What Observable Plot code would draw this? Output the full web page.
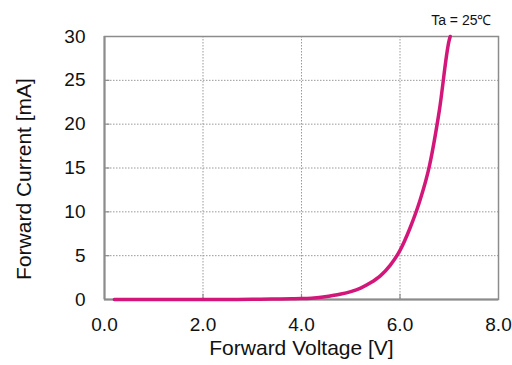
<!DOCTYPE html>
<html>
<head>
<meta charset="utf-8">
<script src="https://cdn.jsdelivr.net/npm/d3@7"></script>
<script src="https://cdn.jsdelivr.net/npm/@observablehq/plot@0.6"></script>
<style>
  html, body { margin: 0; padding: 0; background: #fff; }
  #chart svg { font-family: "Liberation Sans", Arial, sans-serif; }
</style>
</head>
<body>
<div id="chart"></div>
<script>
const voltage = [0.2, 0.6, 1.0, 1.4, 1.8, 2.2, 2.6, 3.0, 3.4, 3.8, 4.0, 4.2, 4.4, 4.6, 4.8, 5.0, 5.2, 5.4, 5.6, 5.8, 6.0, 6.2, 6.4, 6.6, 6.8, 7.0, 7.02];
const current = [0, 0, 0, 0, 0, 0, 0, 0.02, 0.05, 0.08, 0.1, 0.15, 0.25, 0.42, 0.62, 0.9, 1.3, 1.9, 2.7, 3.9, 5.6, 8.1, 11.2, 15.3, 21.6, 29.6, 30];
const xTicks = [0, 2, 4, 6, 8];
const yTicks = [0, 5, 10, 15, 20, 25, 30];
const note = "Ta = 25℃";
const xLabel = "Forward Voltage [V]";
const yLabel = "Forward Current [mA]";

const data = voltage.map((v, i) => ({v, i: current[i]}));
const gridColor = "#999";
const frameColor = "#8c8c8c";
const textColor = "#111";

const chart = Plot.plot({
  width: 512,
  height: 365,
  marginLeft: 104,
  marginRight: 14,
  marginTop: 36,
  marginBottom: 66,
  style: {fontFamily: "'Liberation Sans', Arial, sans-serif", fontSize: "19px", color: textColor, background: "#fff"},
  x: {domain: [0, 8]},
  y: {domain: [0, 30]},
  marks: [
    Plot.ruleX(xTicks.filter(d => d > 0 && d < 8), {stroke: gridColor, strokeWidth: 1, strokeDasharray: "1.5,1.5"}),
    Plot.ruleY(yTicks.filter(d => d > 0 && d < 30), {stroke: gridColor, strokeWidth: 1, strokeDasharray: "1.5,1.5"}),
    Plot.ruleX(xTicks.filter(d => d > 0 && d < 8), {y1: 0, y2: 0.6, stroke: frameColor, strokeWidth: 1.2}),
    Plot.ruleY(yTicks.filter(d => d > 0 && d < 30), {x1: 0, x2: 0.11, stroke: frameColor, strokeWidth: 1.2}),
    Plot.frame({stroke: frameColor, strokeWidth: 1.5}),
    Plot.ruleX([0], {stroke: frameColor, strokeWidth: 2}),
    Plot.ruleY([0], {stroke: frameColor, strokeWidth: 2}),
    Plot.line(data, {x: "v", y: "i", stroke: "#d3177a", strokeWidth: 3.5, curve: "monotone-x"}),
    Plot.axisX({ticks: xTicks, tickFormat: d => d.toFixed(1), tickSize: 0, tickPadding: 18, fontSize: 19, label: null}),
    Plot.axisY({ticks: yTicks, tickSize: 0, tickPadding: 19, fontSize: 19, label: null}),
    Plot.text([xLabel], {text: d => d, frameAnchor: "bottom", dy: 55, fontSize: 21, fill: textColor}),
    Plot.text([yLabel], {text: d => d, frameAnchor: "left", textAnchor: "middle", rotate: -90, dx: -80, dy: 11, fontSize: 21, fill: textColor}),
    Plot.text([note], {text: d => d, frameAnchor: "top-right", textAnchor: "end", dy: -21, dx: -7, fontSize: 14, fill: textColor})
  ]
});
document.getElementById("chart").appendChild(chart);
</script>
</body>
</html>
